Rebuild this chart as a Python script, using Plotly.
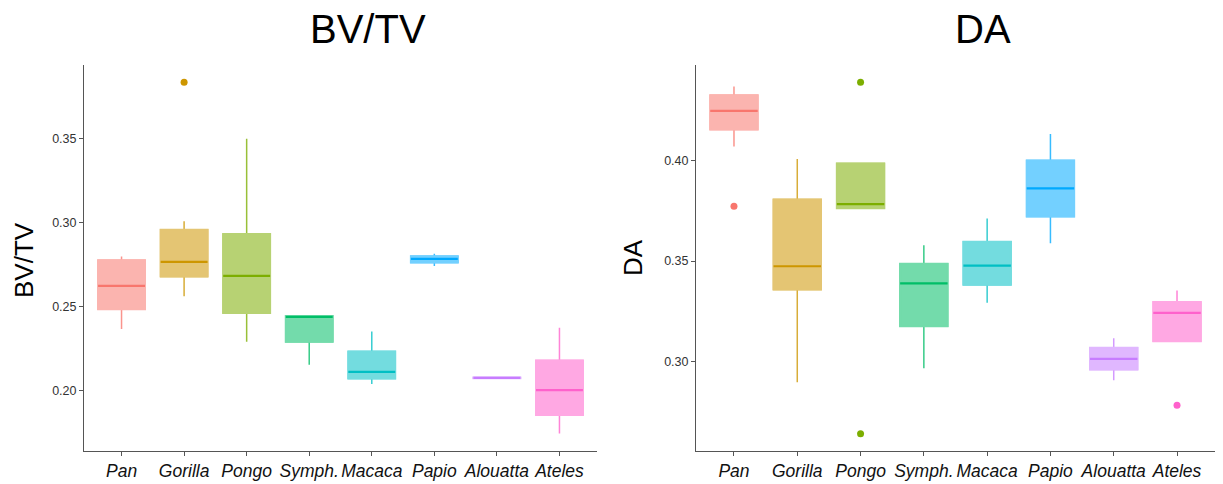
import plotly.graph_objects as go

species = ["Pan", "Gorilla", "Pongo", "Symph.", "Macaca", "Papio", "Alouatta", "Ateles"]
colors = ["#F8766D", "#CD9600", "#7CAE00", "#00BE67", "#00BFC4", "#00A9FF", "#C77CFF", "#FF61CC"]

# BV/TV box statistics
bvtv_low = [0.2367, 0.2562, 0.2290, 0.2153, 0.2038, 0.2742, 0.2075, 0.1744]
bvtv_q1 = [0.2484, 0.2679, 0.2462, 0.2290, 0.2071, 0.2762, 0.2073, 0.1853]
bvtv_med = [0.2623, 0.2766, 0.2683, 0.2438, 0.2111, 0.2784, 0.2075, 0.2002]
bvtv_q3 = [0.2776, 0.2958, 0.2933, 0.2444, 0.2232, 0.2800, 0.2077, 0.2179]
bvtv_high = [0.2798, 0.3008, 0.3500, 0.2444, 0.2351, 0.2815, 0.2077, 0.2373]
bvtv_out_sp = ["Gorilla"]
bvtv_out = [0.3837]

# DA box statistics
da_low = [0.4070, 0.2897, 0.3763, 0.2967, 0.3293, 0.3588, 0.2907, 0.3101]
da_q1 = [0.4154, 0.3358, 0.3763, 0.3175, 0.3382, 0.3722, 0.2960, 0.3101]
da_med = [0.4247, 0.3474, 0.3783, 0.3389, 0.3477, 0.3861, 0.3013, 0.3242]
da_q3 = [0.4325, 0.3806, 0.3985, 0.3487, 0.3596, 0.4000, 0.3068, 0.3296]
da_high = [0.4368, 0.4007, 0.3985, 0.3578, 0.3712, 0.4132, 0.3116, 0.3353]
da_out_sp = ["Pan", "Pongo", "Pongo", "Ateles"]
da_out = [0.3772, 0.4389, 0.2641, 0.2783]

bvtv_ticks = [0.20, 0.25, 0.30, 0.35]
da_ticks = [0.30, 0.35, 0.40]

FONT = "Liberation Sans"


def blend(hexc, a):
    h = hexc.lstrip("#")
    r, g, b = int(h[0:2], 16), int(h[2:4], 16), int(h[4:6], 16)
    r, g, b = [round(c * a + 255 * (1 - a)) for c in (r, g, b)]
    return f"rgb({r},{g},{b})"


fig = go.Figure()


def add_panel(low, q1, med, q3, high, out_sp, out_v, xa, ya):
    for i, sp in enumerate(species):
        c = colors[i]
        common = dict(x=[sp], width=0.75, whiskerwidth=0, xaxis=xa, yaxis=ya,
                      showlegend=False, hoverinfo="skip")
        # whiskers (box outline later hidden by the fill trace)
        fig.add_trace(go.Box(
            q1=[q1[i]], median=[med[i]], q3=[q3[i]],
            lowerfence=[low[i]], upperfence=[high[i]],
            fillcolor="rgba(0,0,0,0)", line=dict(color=blend(c, 0.78), width=1.5),
            **common))
        # box body without visible outline
        fig.add_trace(go.Box(
            q1=[q1[i]], median=[med[i]], q3=[q3[i]],
            lowerfence=[q1[i]], upperfence=[q3[i]],
            fillcolor=blend(c, 0.55), line=dict(color=blend(c, 0.55), width=2),
            **common))
        # median line
        fig.add_trace(go.Box(
            q1=[med[i]], median=[med[i]], q3=[med[i]],
            lowerfence=[med[i]], upperfence=[med[i]],
            fillcolor="rgba(0,0,0,0)", line=dict(color=c, width=2.2),
            **common))
    fig.add_trace(go.Scatter(
        x=out_sp, y=out_v, mode="markers",
        marker=dict(size=7, color=[colors[species.index(s)] for s in out_sp]),
        xaxis=xa, yaxis=ya, showlegend=False, hoverinfo="skip"))


add_panel(bvtv_low, bvtv_q1, bvtv_med, bvtv_q3, bvtv_high, bvtv_out_sp, bvtv_out, "x", "y")
add_panel(da_low, da_q1, da_med, da_q3, da_high, da_out_sp, da_out, "x2", "y2")

W, H = 1223, 484
ydom = [(H - 451) / H, (H - 65) / H]

xcommon = dict(
    type="category", categoryorder="array", categoryarray=species,
    range=[-0.6, 7.6], showline=True, linecolor="#555555", linewidth=1,
    ticks="outside", ticklen=4, tickcolor="#555555", showgrid=False, zeroline=False,
    tickangle=0, automargin=False,
    tickfont=dict(family=FONT, size=17.5, color="#111111", style="italic"),
    fixedrange=True)
ycommon = dict(
    showline=True, linecolor="#555555", linewidth=1, ticks="outside", ticklen=4,
    tickcolor="#555555", showgrid=False, zeroline=False, automargin=False,
    tickfont=dict(family=FONT, size=12.5, color="#333333"), fixedrange=True)

fig.update_layout(
    width=W, height=H,
    margin=dict(l=0, r=0, t=0, b=0, autoexpand=False),
    paper_bgcolor="white", plot_bgcolor="white",
    boxmode="overlay", showlegend=False,
    font=dict(family=FONT),
    xaxis=dict(domain=[84 / W, 597 / W], anchor="y", **xcommon),
    yaxis=dict(domain=ydom, anchor="x", range=[0.1639, 0.394], tickvals=bvtv_ticks,
               ticktext=[f"{v:.2f}" for v in bvtv_ticks], **ycommon),
    xaxis2=dict(domain=[696 / W, 1215 / W], anchor="y2", **xcommon),
    yaxis2=dict(domain=ydom, anchor="x2", range=[0.2555, 0.4475], tickvals=da_ticks,
                ticktext=[f"{v:.2f}" for v in da_ticks], **ycommon),
    annotations=[
        dict(text="BV/TV", x=368 / W, y=(H - 29) / H, xref="paper", yref="paper",
             showarrow=False, font=dict(family=FONT, size=40, color="black"),
             xanchor="center", yanchor="middle"),
        dict(text="DA", x=983 / W, y=(H - 29) / H, xref="paper", yref="paper",
             showarrow=False, font=dict(family=FONT, size=40, color="black"),
             xanchor="center", yanchor="middle"),
        dict(text="BV/TV", x=24 / W, y=(H - 260) / H, xref="paper", yref="paper",
             showarrow=False, textangle=-90, font=dict(family=FONT, size=26, color="black"),
             xanchor="center", yanchor="middle"),
        dict(text="DA", x=633 / W, y=(H - 258) / H, xref="paper", yref="paper",
             showarrow=False, textangle=-90, font=dict(family=FONT, size=26, color="black"),
             xanchor="center", yanchor="middle"),
    ],
)

fig.write_html("out.html", config={"displayModeBar": False},
               post_script="document.body.style.margin='0';document.body.style.overflow='hidden';")
